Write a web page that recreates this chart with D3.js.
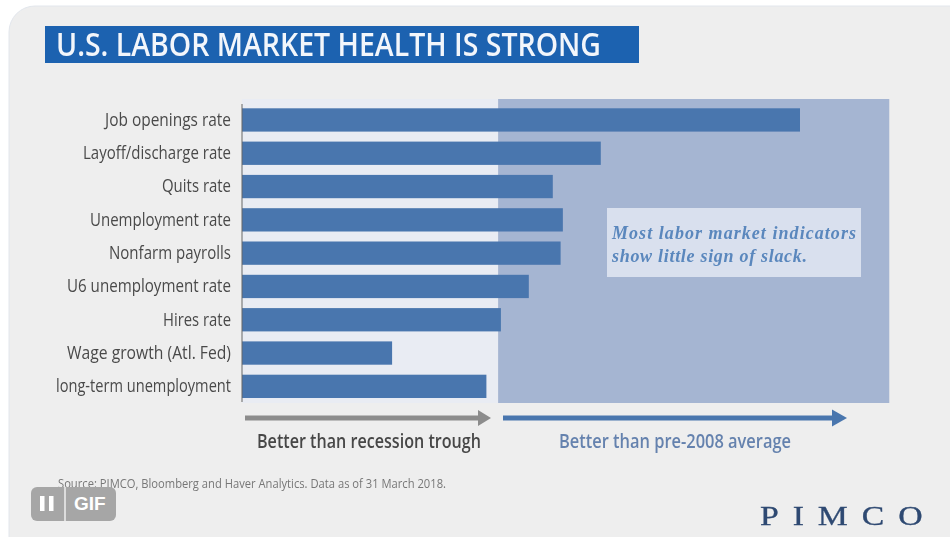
<!DOCTYPE html>
<html><head><meta charset="utf-8">
<script src="https://cdn.jsdelivr.net/npm/d3@7"></script>
<style>html,body{margin:0;padding:0;background:#fff;overflow:hidden}svg{display:block}</style>
</head><body><svg id="c" width="950" height="537"></svg>
<script>
const categories=["Job openings rate","Layoff/discharge rate","Quits rate","Unemployment rate","Nonfarm payrolls","U6 unemployment rate","Hires rate","Wage growth (Atl. Fed)","long-term unemployment"];
const values=[100,64.3,55.7,57.5,57.1,51.4,46.4,26.9,43.8];
const pre2008Start=[45.9];
const bandEnd=[116];
const titleText=["U.S. LABOR MARKET HEALTH IS STRONG"];
const noteLines=["Most labor market indicators","show little sign of slack."];
const arrowLabels=["Better than recession trough","Better than pre-2008 average"];
const sourceText=["Source: PIMCO, Bloomberg and Haver Analytics. Data as of 31 March 2018."];
const logoText=["PIMCO"];

const svg=d3.select("#c");
const sans="'Open Sans','Noto Sans',sans-serif", serif="'Liberation Serif',serif";
const x=d3.scaleLinear().domain([0,100]).range([242,800]);
const y=d3.scaleBand().domain(categories).range([103.3,403]).paddingInner(0.3).paddingOuter(0.15);
const labelWidths=[126,148,69,141,122,164,68,164,175];
const noteWidths=[244,195];

const defs=svg.append("defs");
const blur=defs.append("filter").attr("id","b").attr("x","-5%").attr("y","-5%").attr("width","110%").attr("height","110%");
blur.append("feGaussianBlur").attr("stdDeviation",0.55);
const root=svg.append("g").attr("filter","url(#b)");

root.append("rect").attr("x",9).attr("y",6).attr("width",990).attr("height",580).attr("rx",26).attr("fill","#eeeeee").attr("stroke","#e2e6ec");
root.append("rect").attr("x",45).attr("y",26).attr("width",594).attr("height",37).attr("fill","#1f62b0");
root.append("text").attr("x",56).attr("y",56).attr("font-family",sans).attr("font-size",32).attr("font-weight",600).attr("fill","#f2f6fb").attr("textLength",545).attr("lengthAdjust","spacingAndGlyphs").text(titleText[0]);

root.append("rect").attr("x",242).attr("y",99).attr("width",x(pre2008Start[0])-242).attr("height",304).attr("fill","#e9ecf3");
root.append("rect").attr("x",x(pre2008Start[0])).attr("y",99).attr("width",x(bandEnd[0])-x(pre2008Start[0])).attr("height",304).attr("fill","#a5b5d2");

root.selectAll("rect.bar").data(categories).join("rect").attr("class","bar")
 .attr("x",x(0)).attr("y",d=>y(d)).attr("height",y.bandwidth())
 .attr("width",(d,i)=>x(values[i])-x(0)).attr("fill","#4a76ae");

const axis=d3.axisLeft(y).tickSize(0).tickPadding(11);
const ag=root.append("g").attr("transform",`translate(${x(0)},0)`).call(axis);
ag.select(".domain").attr("stroke","#666").attr("stroke-width",1).attr("d","M0,104V402");
ag.selectAll("text").attr("font-family",sans).attr("font-size",18.5).attr("fill","#4a4a4a").attr("dy","0.32em")
  .attr("lengthAdjust","spacingAndGlyphs").attr("textLength",(d,i)=>labelWidths[i]);

root.append("rect").attr("x",607).attr("y",208).attr("width",254).attr("height",69).attr("fill","#d9e0ee");
root.selectAll("text.note").data(noteLines).join("text").attr("class","note")
 .attr("x",612).attr("y",(d,i)=>239+i*23).attr("font-family",serif).attr("font-style","italic").attr("font-weight",700)
 .attr("font-size",18).attr("fill","#5a87bd").attr("textLength",(d,i)=>noteWidths[i]).attr("lengthAdjust","spacing").text(d=>d);

function arrow(x0,x1,yy,c,h,w){
 root.append("line").attr("x1",x0).attr("x2",x1-w+1).attr("y1",yy).attr("y2",yy).attr("stroke",c).attr("stroke-width",5);
 root.append("path").attr("d",`M${x1-w},${yy-h}L${x1},${yy}L${x1-w},${yy+h}Z`).attr("fill",c);
}
arrow(245,491,418,"#8c8c8c",8,13);
arrow(503,847,418,"#4a76ae",8.5,15);

root.append("text").attr("x",257).attr("y",448).attr("font-family",sans).attr("font-size",19).attr("font-weight",600).attr("fill","#474747").attr("textLength",224).attr("lengthAdjust","spacingAndGlyphs").text(arrowLabels[0]);
root.append("text").attr("x",559).attr("y",448).attr("font-family",sans).attr("font-size",19).attr("font-weight",600).attr("fill","#6582ae").attr("textLength",232).attr("lengthAdjust","spacingAndGlyphs").text(arrowLabels[1]);

root.append("text").attr("x",58).attr("y",488).attr("font-family",sans).attr("font-size",12.5).attr("fill","#777").attr("textLength",388).attr("lengthAdjust","spacingAndGlyphs").text(sourceText[0]);
root.append("g").attr("transform","translate(760,525) scale(1.25,1)").append("text").attr("font-family",serif).attr("font-size",27).attr("stroke","#2f4a72").attr("stroke-width",0.3).attr("fill","#2f4a72").attr("textLength",130).attr("lengthAdjust","spacing").text(logoText[0]);

const gif=svg.append("g");
gif.append("rect").attr("x",31).attr("y",487).attr("width",85).attr("height",34).attr("rx",6).attr("fill","#a6a6a6");
gif.append("line").attr("x1",65).attr("x2",65).attr("y1",487).attr("y2",521).attr("stroke","#eee").attr("stroke-width",1.5);
gif.append("rect").attr("x",40).attr("y",496).attr("width",4.5).attr("height",15).attr("fill","#fff");
gif.append("rect").attr("x",49).attr("y",496).attr("width",4.5).attr("height",15).attr("fill","#fff");
gif.append("text").attr("x",74).attr("y",510).attr("font-family","'Liberation Sans',sans-serif").attr("font-size",19).attr("font-weight",700).attr("fill","#fff").text("GIF");
</script></body></html>
